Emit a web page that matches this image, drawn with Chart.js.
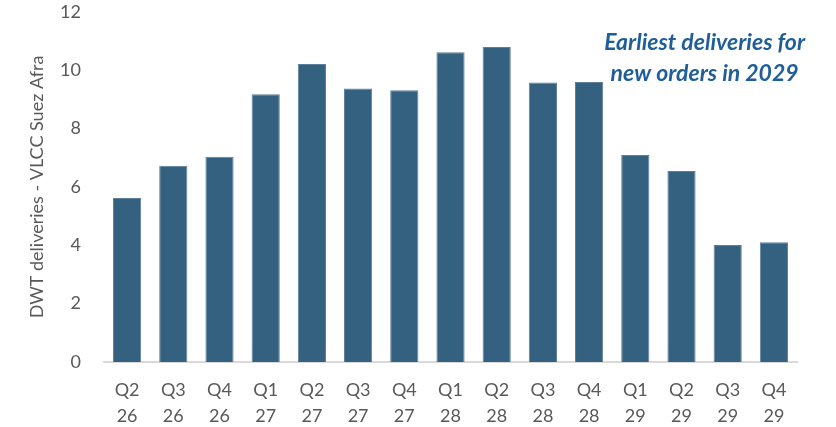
<!DOCTYPE html>
<html>
<head>
<meta charset="utf-8">
<script src="https://cdn.jsdelivr.net/npm/chart.js@4"></script>
<style>
  html, body { margin: 0; padding: 0; background: #fff; }
  #wrap { width: 836px; height: 427px; }
</style>
</head>
<body>
<div id="wrap"><canvas id="deliveriesChart"></canvas></div>
<script>
// --- DATOS ---
const quarters = ['Q2', 'Q3', 'Q4', 'Q1', 'Q2', 'Q3', 'Q4', 'Q1', 'Q2', 'Q3', 'Q4', 'Q1', 'Q2', 'Q3', 'Q4'];
const years = ['26', '26', '26', '27', '27', '27', '27', '28', '28', '28', '28', '29', '29', '29', '29'];
const deliveries = [5.62, 6.73, 7.04, 9.18, 10.22, 9.38, 9.32, 10.62, 10.8, 9.58, 9.6, 7.1, 6.55, 4.01, 4.11];
const yTicks = [0, 2, 4, 6, 8, 10, 12];
const noteLines = ['Earliest deliveries for', 'new orders in 2029'];

const labels = quarters.map((q, i) => [q, years[i]]);

// texto de anotación arriba a la derecha
const notePlugin = {
    id: 'note',
    afterDraw(chart, args, opts) {
        const { ctx, scales } = chart;
        const x = scales.x.getPixelForValue(opts.xValue);
        ctx.save();
        ctx.fillStyle = opts.color;
        ctx.font = opts.font;
        ctx.textAlign = 'center';
        ctx.textBaseline = 'middle';
        opts.lines.forEach((line, i) => {
            ctx.fillText(line, x, scales.y.getPixelForValue(opts.yValues[i]));
        });
        ctx.restore();
    }
};

const ctx = document.getElementById('deliveriesChart').getContext('2d');

new Chart(ctx, {
    type: 'bar',
    data: {
        labels: labels,
        datasets: [{
            label: 'DWT deliveries',
            data: deliveries,
            backgroundColor: '#33617f',
            borderColor: '#5e7f99',
            borderWidth: 1,
            categoryPercentage: 1,
            barPercentage: 0.61
        }]
    },
    options: {
        responsive: true,
        maintainAspectRatio: false,
        animation: false,
        layout: { padding: { top: 12, right: 39, bottom: 0, left: 0 } },
        plugins: {
            legend: { display: false },
            tooltip: { enabled: false },
            note: {
                lines: noteLines,
                xValue: 12.5,
                yValues: [10.96, 9.9],
                color: '#1f5e98',
                font: 'italic bold 23px Lato'
            }
        },
        scales: {
            x: {
                grid: { display: false, drawTicks: false },
                border: { display: true, color: '#d9d9d9', width: 2 },
                ticks: {
                    color: '#595959',
                    font: { family: 'Lato', size: 18, lineHeight: 1.45 },
                    padding: 15,
                    maxRotation: 0,
                    autoSkip: false
                },
                afterFit: s => { s.height = 65; s.paddingLeft = 0; s.paddingRight = 0; }
            },
            y: {
                min: 0,
                max: 12,
                afterBuildTicks: s => { s.ticks = yTicks.map(v => ({ value: v })); },
                grid: { display: false, drawTicks: false },
                border: { display: false },
                ticks: {
                    color: '#595959',
                    font: { family: 'Lato', size: 18 },
                    padding: 23
                },
                title: {
                    display: true,
                    text: 'DWT deliveries - VLCC Suez Afra',
                    color: '#595959',
                    font: { family: 'Lato', size: 18 },
                    padding: { top: 26, bottom: 0 }
                },
                afterFit: s => { s.width = 104; s.paddingTop = 0; s.paddingBottom = 0; }
            }
        }
    },
    plugins: [notePlugin]
});
</script>
</body>
</html>
